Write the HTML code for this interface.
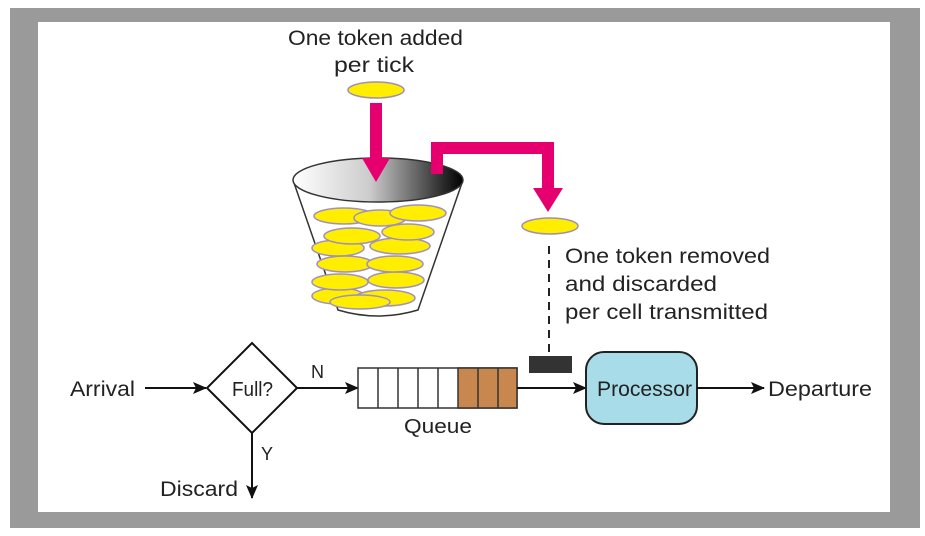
<!DOCTYPE html><html><head><style>body{margin:0;background:#fff}svg{display:block}text{font-family:"Liberation Sans",sans-serif;fill:#222}</style></head><body>
<svg width="925" height="536" viewBox="0 0 925 536">
<defs>
<linearGradient id="g" x1="0" x2="1"><stop offset="0" stop-color="#fff"/><stop offset="0.45" stop-color="#ccc"/><stop offset="1" stop-color="#000"/></linearGradient>
<marker id="a" markerWidth="14" markerHeight="12" refX="13" refY="6" orient="auto" markerUnits="userSpaceOnUse"><path d="M0,0 L14,6 L0,12 L3,6 z" fill="#111"/></marker>
</defs>
<rect x="0" y="0" width="925" height="536" fill="#fff"/>
<rect x="10" y="8" width="910" height="520" fill="#9a9a9a"/>
<rect x="38" y="22" width="852" height="490" fill="#fff"/>
<text x="288" y="45" font-size="21" textLength="175" lengthAdjust="spacingAndGlyphs">One token added</text>
<text x="334" y="72" font-size="21" textLength="80" lengthAdjust="spacingAndGlyphs">per tick</text>
<ellipse cx="376" cy="90" rx="28" ry="8" fill="#ffee00" stroke="#a090b0" stroke-width="1.5"/>
<path d="M293,180 L338,310 Q378,322 418,310 L463,180" fill="#fff" stroke="#333" stroke-width="1.5"/>
<g fill="#ffee00" stroke="#a090c0" stroke-width="1.5">
<ellipse cx="338" cy="296" rx="26" ry="8"/><ellipse cx="385" cy="298" rx="30" ry="8"/>
<ellipse cx="340" cy="282" rx="28" ry="8"/><ellipse cx="396" cy="280" rx="28" ry="8"/>
<ellipse cx="345" cy="264" rx="28" ry="8"/><ellipse cx="395" cy="264" rx="28" ry="8"/>
<ellipse cx="338" cy="248" rx="26" ry="8"/><ellipse cx="400" cy="246" rx="30" ry="8"/>
<ellipse cx="352" cy="236" rx="28" ry="8"/><ellipse cx="408" cy="232" rx="26" ry="8"/>
<ellipse cx="344" cy="216" rx="30" ry="8"/><ellipse cx="380" cy="218" rx="26" ry="8"/><ellipse cx="418" cy="213" rx="28" ry="8"/>
<ellipse cx="360" cy="302" rx="30" ry="7"/>
</g>
<ellipse cx="378" cy="180" rx="85" ry="22" fill="url(#g)" stroke="#333" stroke-width="1.5"/>
<path d="M370,103 H382 V158 H390 L376,182 L362,158 H370 Z" fill="#e6006f"/>
<path d="M431,174 V142 H554 V188 H563 L548,212 L533,188 H542 V154 H443 V174 Z" fill="#e6006f"/>
<ellipse cx="550" cy="226" rx="28" ry="8" fill="#ffee00" stroke="#a090b0" stroke-width="1.5"/>
<text x="565" y="263" font-size="21" textLength="205" lengthAdjust="spacingAndGlyphs">One token removed</text>
<text x="565" y="291" font-size="21" textLength="152" lengthAdjust="spacingAndGlyphs">and discarded</text>
<text x="565" y="319" font-size="21" textLength="203" lengthAdjust="spacingAndGlyphs">per cell transmitted</text>
<line x1="549" y1="246" x2="549" y2="354" stroke="#222" stroke-width="2" stroke-dasharray="8,6"/>
<rect x="529" y="356" width="43" height="17" fill="#333"/>
<text x="70" y="396" font-size="21" textLength="65" lengthAdjust="spacingAndGlyphs">Arrival</text>
<line x1="145" y1="388" x2="206" y2="388" stroke="#111" stroke-width="2" marker-end="url(#a)"/>
<path d="M252,343 L297,388 L252,433 L207,388 Z" fill="#fff" stroke="#111" stroke-width="2"/>
<text x="232" y="396" font-size="20" textLength="41" lengthAdjust="spacingAndGlyphs">Full?</text>
<text x="311" y="378" font-size="18">N</text>
<line x1="297" y1="388" x2="358" y2="388" stroke="#111" stroke-width="2" marker-end="url(#a)"/>
<rect x="358" y="368" width="159" height="40" fill="#fff" stroke="#333" stroke-width="1.5"/>
<rect x="458" y="368" width="59" height="40" fill="#c8874f" stroke="#333" stroke-width="1.5"/>
<g stroke="#333" stroke-width="1.5"><line x1="378" y1="368" x2="378" y2="408"/><line x1="398" y1="368" x2="398" y2="408"/><line x1="418" y1="368" x2="418" y2="408"/><line x1="438" y1="368" x2="438" y2="408"/><line x1="478" y1="368" x2="478" y2="408"/><line x1="498" y1="368" x2="498" y2="408"/></g>
<text x="404" y="433" font-size="20" textLength="68" lengthAdjust="spacingAndGlyphs">Queue</text>
<line x1="517" y1="388" x2="586" y2="388" stroke="#111" stroke-width="2" marker-end="url(#a)"/>
<rect x="586" y="352" width="111" height="72" rx="18" fill="#a8dce8" stroke="#222" stroke-width="2"/>
<text x="597" y="396" font-size="21" textLength="95" lengthAdjust="spacingAndGlyphs" fill="#1a3a55">Processor</text>
<line x1="697" y1="388" x2="764" y2="388" stroke="#111" stroke-width="2" marker-end="url(#a)"/>
<text x="768" y="396" font-size="21" textLength="104" lengthAdjust="spacingAndGlyphs">Departure</text>
<line x1="252" y1="433" x2="252" y2="498" stroke="#111" stroke-width="2" marker-end="url(#a)"/>
<text x="261" y="460" font-size="18">Y</text>
<text x="160" y="496" font-size="21" textLength="78" lengthAdjust="spacingAndGlyphs">Discard</text>
</svg></body></html>
